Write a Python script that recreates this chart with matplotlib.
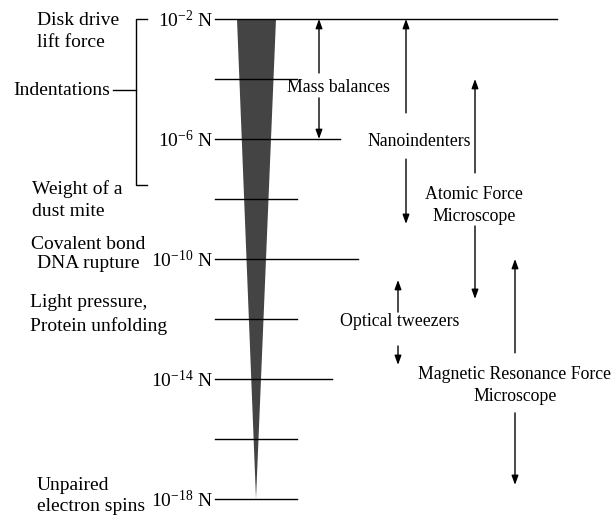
import matplotlib
matplotlib.use("Agg")
import matplotlib.pyplot as plt

plt.rcParams['font.family'] = ['Liberation Serif', 'DejaVu Serif']
plt.rcParams['mathtext.fontset'] = 'custom'
plt.rcParams['mathtext.rm'] = 'Liberation Serif'
plt.rcParams['mathtext.it'] = 'Liberation Serif:italic'
plt.rcParams['mathtext.bf'] = 'Liberation Serif:bold'

# --- data -------------------------------------------------------------
# force scale, exponent of 10 (N)
level_exponents = [-2, -4, -6, -8, -10, -12, -14, -16, -18]
level_line_end = [557, 297, 340, 297, 358, 297, 332, 297, 297]   # right end of each level line
labelled_exponents = [-2, -6, -10, -14, -18]

# phenomena (left side)
phenomena = ["Disk drive\nlift force", "Indentations", "Weight of a\ndust mite",
             "Covalent bond\nDNA rupture", "Light pressure,\nProtein unfolding",
             "Unpaired\nelectron spins"]
phenomena_exp = [-2.42, -4.37, -8.03, -9.83, -11.85, -17.9]

# techniques (right side): name, range in exponents, label gap
techniques = ["Mass balances", "Nanoindenters", "Atomic Force\nMicroscope",
              "Optical tweezers", "Magnetic Resonance Force\nMicroscope"]
tech_top = [-2, -2, -4, -10.7, -10]
tech_bottom = [-6, -8.83, -11.33, -13.53, -17.53]
tech_label_exp = [-4.3, -6.1, -8.23, -12.1, -14.23]
tech_gap_top = [-3.8, -5.13, -7.13, -11.77, -13.13]
tech_gap_bottom = [-4.63, -6.67, -8.9, -12.9, -15.13]

# ----------------------------------------------------------------------
W, H = 614, 517
fig = plt.figure(figsize=(W / 100, H / 100), dpi=100)
ax = fig.add_axes([0, 0, 1, 1])
ax.set_xlim(0, W)
ppu = 30.0  # pixels per decade
ax.set_ylim(-18 - 18 / ppu, -2 + 19 / ppu)
ax.axis('off')

FS = 14
FS_R = 12.8
line_x0 = 215

# wedge
ax.fill([237, 276, 256], [level_exponents[0], level_exponents[0], level_exponents[-1]],
        color='#444444', lw=0, zorder=1)

# level lines
for e, xe in zip(level_exponents, level_line_end):
    ax.plot([line_x0, xe], [e, e], color='black', lw=1, zorder=2)

for e in labelled_exponents:
    ax.text(line_x0 - 2, e - 0.05, r"10$^{%d}$ N" % e, ha='right', va='center', fontsize=FS)

# bracket
bx = 136
yb = -2 - (185 - 19) / ppu
ax.plot([bx + 11, bx, bx, bx + 11], [-2, -2, yb, yb], color='black', lw=1)
ax.plot([113, bx], [phenomena_exp[1]] * 2, color='black', lw=1)

# left texts
ax.text(37, phenomena_exp[0], phenomena[0], ha='left', va='center', fontsize=FS, linespacing=1.37)
ax.text(110, phenomena_exp[1], phenomena[1], ha='right', va='center', fontsize=FS)
ax.text(32, phenomena_exp[2], phenomena[2], ha='left', va='center', fontsize=FS, linespacing=1.37)
ax.text(88, phenomena_exp[3], phenomena[3], ha='center', va='center', fontsize=FS, linespacing=1.21)
ax.text(30, phenomena_exp[4], phenomena[4], ha='left', va='center', fontsize=FS, linespacing=1.42)
ax.text(37, phenomena_exp[5], phenomena[5], ha='left', va='center', fontsize=FS, linespacing=1.35)

# techniques
tech_x = [319, 406, 475, 398, 515]
tech_text_x = [338, 419, 474, 400, 515]


def arrow(x, y_from, y_to):
    ax.annotate('', xy=(x, y_to), xytext=(x, y_from),
                arrowprops=dict(arrowstyle='-|>,head_length=0.55,head_width=0.2',
                                lw=1, color='black', shrinkA=0, shrinkB=0))


for name, top, bot, ly, gt, gb, x, tx in zip(techniques, tech_top, tech_bottom,
                                             tech_label_exp, tech_gap_top, tech_gap_bottom,
                                             tech_x, tech_text_x):
    ax.text(tx, ly, name, ha='center', va='center', fontsize=FS_R, linespacing=1.39)
    arrow(x, gt, top)
    arrow(x, gb, bot)

fig.savefig("out.png", dpi=100, facecolor='white')
